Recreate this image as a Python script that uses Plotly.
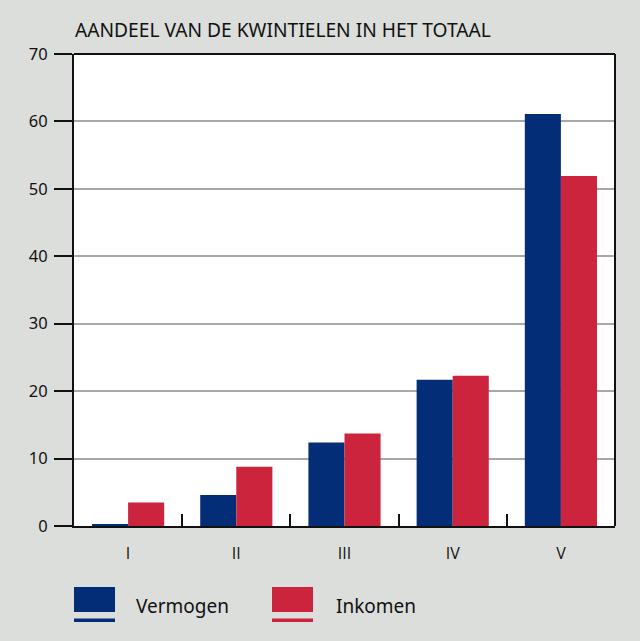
import plotly.graph_objects as go

categories = ["I", "II", "III", "IV", "V"]
vermogen = [0.2, 4.6, 12.4, 21.7, 61.1]
inkomen = [3.5, 8.8, 13.7, 22.3, 51.9]
y_ticks = [0, 10, 20, 30, 40, 50, 60, 70]

BLUE = "#042d78"
RED = "#cb243c"
BG = "#dcdedb"

W, H = 640, 641
L, R, T, B = 74, 615, 54, 526

def px(x):
    return (x - L) / (R - L)

def py(y):
    return (B - y) / (B - T)

FONT = "Noto Sans"
CAT_FONT = "Open Sans"
INK = "#111111"

fig = go.Figure()
fig.add_trace(go.Bar(x=categories, y=vermogen, name="Vermogen",
                     marker=dict(color=BLUE, line=dict(width=0))))
fig.add_trace(go.Bar(x=categories, y=inkomen, name="Inkomen",
                     marker=dict(color=RED, line=dict(width=0))))

fig.update_layout(
    width=W, height=H,
    margin=dict(l=L, r=W - R, t=T, b=H - B, pad=0),
    paper_bgcolor=BG, plot_bgcolor="white",
    barmode="group", bargap=0.333, bargroupgap=0,
    showlegend=False,
    font=dict(family=FONT, color=INK, size=16),
    xaxis=dict(
        type="category", showline=True, linecolor=INK, linewidth=2,
        ticks="inside", tickson="boundaries", ticklen=12, tickwidth=2,
        tickcolor=INK, showgrid=False,
        tickfont=dict(size=16, family=CAT_FONT, color=INK),
        ticklabelstandoff=12,
    ),
    yaxis=dict(
        range=[0, 70], tickvals=y_ticks, showline=True, linecolor=INK,
        linewidth=2, ticks="outside", ticklen=18, tickwidth=2,
        tickcolor=INK, showgrid=True, gridcolor="#a8a8a8", gridwidth=1.5,
        zeroline=False, tickfont=dict(size=16.5, family=FONT, color=INK),
        ticklabelstandoff=3,
    ),
)

# top and right border of the plot area
fig.add_shape(type="line", xref="paper", yref="paper", x0=0, x1=1, y0=1, y1=1,
              line=dict(color=INK, width=2))
fig.add_shape(type="line", xref="paper", yref="paper", x0=1, x1=1, y0=0, y1=1,
              line=dict(color=INK, width=2))

# title
fig.add_annotation(text="AANDEEL VAN DE KWINTIELEN IN HET TOTAAL",
                   xref="paper", yref="paper", x=px(73), y=py(29),
                   xanchor="left", yanchor="middle", showarrow=False,
                   font=dict(size=19.2, family=FONT, color=INK))

# custom legend
legend_items = [("Vermogen", BLUE, 74, 134), ("Inkomen", RED, 272, 334)]
for label, color, x0, tx in legend_items:
    fig.add_shape(type="rect", xref="paper", yref="paper",
                  x0=px(x0), x1=px(x0 + 41), y0=py(612), y1=py(587),
                  fillcolor=color, line=dict(width=0))
    fig.add_shape(type="rect", xref="paper", yref="paper",
                  x0=px(x0), x1=px(x0 + 41), y0=py(622), y1=py(618.5),
                  fillcolor=color, line=dict(width=0))
    fig.add_annotation(text=label, xref="paper", yref="paper",
                       x=px(tx), y=py(606), xanchor="left", yanchor="middle",
                       showarrow=False, font=dict(size=19, family=FONT, color=INK))

fig.write_html(
    "out.html",
    config={"displayModeBar": False},
    post_script="document.body.style.margin='0';document.body.style.background='%s';" % BG,
)
